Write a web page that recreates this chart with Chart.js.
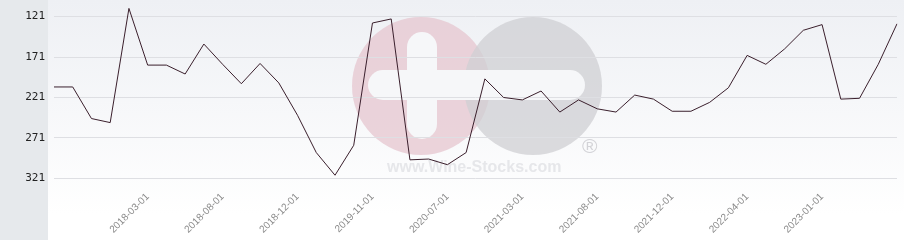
<!DOCTYPE html>
<html>
<head>
<meta charset="utf-8">
<script src="https://cdn.jsdelivr.net/npm/chart.js@4.4.0/dist/chart.umd.min.js"></script>
<style>
    html, body { margin: 0; padding: 0; background: #fff; }
    #wrap { width: 904px; height: 240px; position: relative; }
</style>
</head>
<body>
<div id="wrap"><canvas id="chart" width="904" height="240"></canvas></div>
<script>
// Valeurs (rang, axe inversé)
const rankValues = [
    208, 208, 247, 252, 111, 181, 181, 192, 155, 180,
    204, 179, 203, 243, 289, 317, 280, 129, 124, 298,
    297, 304, 289, 198, 221, 224, 213, 239, 224, 235,
    239, 218, 223, 238, 238, 227, 209, 169, 180, 161,
    138, 131, 223, 222, 180, 130
];

// Dates affichées sous l'axe (une étiquette tous les 4 points)
const tickLabels = [
    '2018-03-01', '2018-08-01', '2018-12-01', '2019-11-01', '2020-07-01',
    '2021-03-01', '2021-08-01', '2021-12-01', '2022-04-01', '2023-01-01'
];
const firstLabelIndex = 5;
const labelStep = 4;

const yTicks = [121, 171, 221, 271, 321];

// Catégories : une par point, seules certaines ont une date visible
const categories = rankValues.map((v, i) => {
    const k = (i - firstLabelIndex) / labelStep;
    return (Number.isInteger(k) && k >= 0 && k < tickLabels.length) ? tickLabels[k] : '';
});

// Fond dégradé + panneau gris à gauche + filigrane
const backgroundPlugin = {
    id: 'background',
    beforeDraw(chart) {
        const ctx = chart.ctx;
        ctx.save();
        const grad = ctx.createLinearGradient(0, 0, 0, 215);
        grad.addColorStop(0, '#eef0f4');
        grad.addColorStop(1, '#ffffff');
        ctx.fillStyle = grad;
        ctx.fillRect(48, 0, chart.width - 48, chart.height);
        ctx.fillStyle = '#e6e9ec';
        ctx.fillRect(0, 0, 48, chart.height);

        // filigrane
        ctx.globalAlpha = 0.75;
        ctx.fillStyle = '#e6c6cf';
        ctx.beginPath();
        ctx.arc(421, 86, 69, 0, Math.PI * 2);
        ctx.fill();
        ctx.fillStyle = '#cfcfd3';
        ctx.beginPath();
        ctx.arc(533, 86, 69, 0, Math.PI * 2);
        ctx.fill();
        ctx.globalAlpha = 1;
        ctx.fillStyle = '#f6f7f9';
        roundRect(ctx, 368, 70, 217, 30, 15);
        roundRect(ctx, 407, 32, 30, 107, 15);
        ctx.fillStyle = '#e6e7ea';
        ctx.font = 'bold 16px "Liberation Sans"';
        ctx.textAlign = 'left';
        ctx.textBaseline = 'alphabetic';
        ctx.fillText('www.Wine-Stocks.com', 387, 172);
        ctx.fillStyle = '#d3d3d7';
        ctx.font = '21px "Liberation Sans"';
        ctx.fillText('®', 582, 153);
        ctx.restore();
    }
};

function roundRect(ctx, x, y, w, h, r) {
    ctx.beginPath();
    ctx.moveTo(x + r, y);
    ctx.arcTo(x + w, y, x + w, y + h, r);
    ctx.arcTo(x + w, y + h, x, y + h, r);
    ctx.arcTo(x, y + h, x, y, r);
    ctx.arcTo(x, y, x + w, y, r);
    ctx.closePath();
    ctx.fill();
}

const ctx = document.getElementById('chart').getContext('2d');
new Chart(ctx, {
    type: 'line',
    data: {
        labels: categories,
        datasets: [{
            data: rankValues,
            borderColor: '#3a1f2c',
            borderWidth: 1,
            pointRadius: 0,
            tension: 0,
            fill: false
        }]
    },
    options: {
        responsive: false,
        animation: false,
        layout: { padding: { top: 0, right: 7, bottom: 0, left: 0 } },
        plugins: {
            legend: { display: false },
            tooltip: { enabled: false }
        },
        scales: {
            x: {
                offset: false,
                grid: { display: false, drawTicks: false },
                border: { display: false },
                ticks: {
                    autoSkip: false,
                    minRotation: 45,
                    maxRotation: 45,
                    padding: 8,
                    color: '#8a8a8a',
                    font: { family: 'Liberation Sans', size: 10 }
                },
                afterFit(scale) {
                    scale.height = 57;
                    scale.paddingLeft = 0;
                    scale.paddingRight = 0;
                }
            },
            y: {
                reverse: true,
                min: 100.6,
                max: 326.6,
                grid: { color: '#dedfe3', drawTicks: false },
                border: { display: false },
                ticks: {
                    padding: 9,
                    color: '#222',
                    font: { family: 'DejaVu Sans Mono', size: 11 }
                },
                afterBuildTicks(scale) {
                    scale.ticks = yTicks.map(v => ({ value: v }));
                },
                afterFit(scale) {
                    scale.width = 54;
                    scale.paddingTop = 0;
                    scale.paddingBottom = 0;
                }
            }
        }
    },
    plugins: [backgroundPlugin]
});
</script>
</body>
</html>
